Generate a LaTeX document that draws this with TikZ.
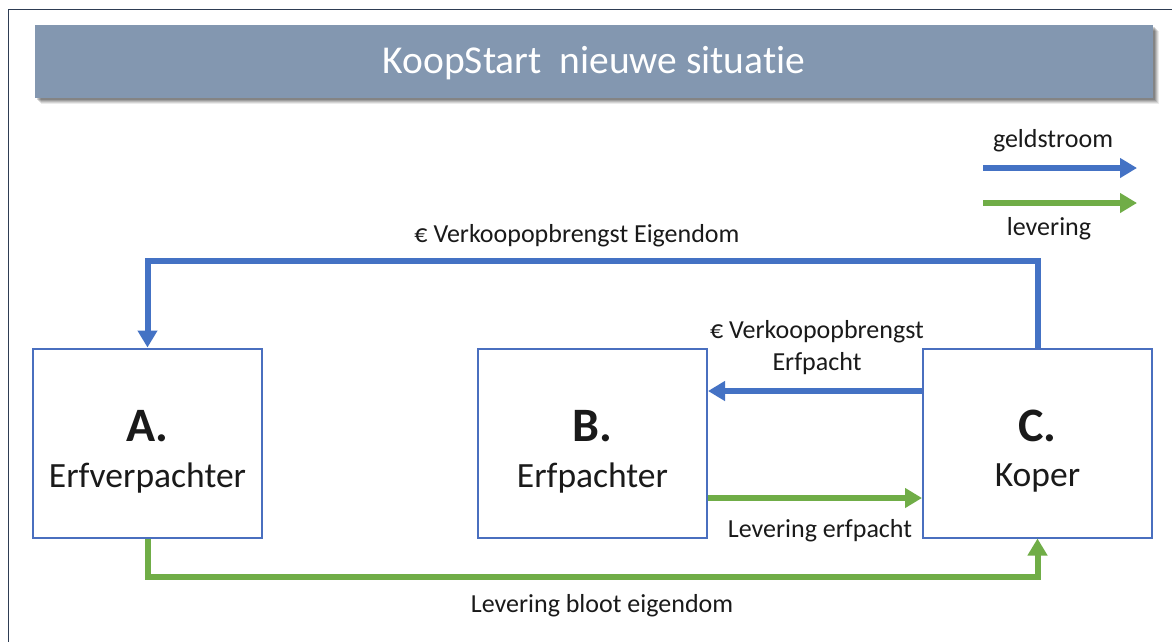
\documentclass[tikz,border=0pt]{standalone}
\usepackage{fontspec}
\setmainfont[Ligatures={NoCommon}]{Carlito}
\usetikzlibrary{arrows.meta}
\definecolor{geldblue}{HTML}{4472C4}
\definecolor{levgreen}{HTML}{70AD47}
\definecolor{boxblue}{HTML}{4A6FBF}
\definecolor{banner}{HTML}{8397B0}
\definecolor{frame}{HTML}{2E3D53}
\definecolor{txt}{HTML}{1A1A1A}
\tikzset{
  entity/.style={draw=boxblue, line width=2pt, fill=white, minimum width=229pt, minimum height=189pt, inner sep=0pt},
  lettertxt/.style={font=\fontsize{48}{52}\selectfont\bfseries, text=txt, inner sep=0pt},
  nametxt/.style={font=\fontsize{35.5}{40}\selectfont, text=txt, inner sep=0pt},
  lbl/.style={font=\fontsize{26}{32}\selectfont, text=txt, inner sep=0pt, align=center},
  geld/.style={draw=geldblue, line width=6pt, -{Triangle[length=17pt,width=19pt]}},
  lev/.style={draw=levgreen, line width=6pt, -{Triangle[length=17pt,width=19pt]}},
}
\begin{document}
\begin{tikzpicture}[x=1pt,y=-1pt]
\useasboundingbox (0,0) rectangle (1172,641);
\clip (0,0) rectangle (1172,641);
\fill[white] (0,0) rectangle (1172,641);
% outer frame
\draw[frame, line width=1.6pt] (8.5,9.5) rectangle (1200,700);
% banner shadow
\foreach \d/\o in {6/0.08,5/0.10,4/0.12,3/0.14,2/0.16} {
  \fill[black, opacity=\o] (35+\d,25+\d) rectangle (1153+\d,98+\d);
}
\node[fill=banner, minimum width=1118pt, minimum height=73pt, inner sep=0pt] (banner) at (594,61.5) {};
\node[font=\fontsize{39.5}{44}\selectfont, text=white, inner sep=0pt] (title) at (594,63) {KoopStart\ \ nieuwe situatie};
% legend
\coordinate (g1) at (983,168);
\coordinate (g2) at (1137,168);
\coordinate (l1) at (983,203);
\coordinate (l2) at (1137,203);
\draw[geld, line width=5.5pt] (g1) -- (g2);
\draw[lev, line width=5.5pt] (l1) -- (l2);
\node[lbl] (geldlbl) at (1053,141) {geldstroom};
\node[lbl] (levlbl) at (1049,229) {levering};
% entities
\node[entity] (A) at (147.5,443) {};
\node[entity] (B) at (592.5,443) {};
\node[entity] (C) at (1037.5,443) {};
\node[lettertxt] (At) at (147.5,426) {A.};
\node[nametxt] (An) at (147.5,478) {Erfverpachter};
\node[lettertxt] (Bt) at (592.5,426) {B.};
\node[nametxt] (Bn) at (592.5,478) {Erfpachter};
\node[lettertxt] (Ct) at (1037.5,426) {C.};
\node[nametxt] (Cn) at (1037.5,478) {Koper};
% connectors
\draw[geld] (C.north) -- ++(0,-87) -| (A.north);
\draw[geld] ([yshift=52pt]C.west) -- ([yshift=52pt]B.east);
\draw[lev] ([yshift=-55pt]B.east) -- ([yshift=-55pt]C.west);
\draw[lev] (A.south) -- ++(0,38) -| (C.south);
% labels
\node[lbl] (l_eig) at (577,236) {€ Verkoopopbrengst Eigendom};
\node[lbl] (l_erf) at (817,348) {€ Verkoopopbrengst\\Erfpacht};
\node[lbl] (l_leverf) at (820,531) {Levering erfpacht};
\node[lbl] (l_blo) at (602,606) {Levering bloot eigendom};
\end{tikzpicture}
\end{document}
